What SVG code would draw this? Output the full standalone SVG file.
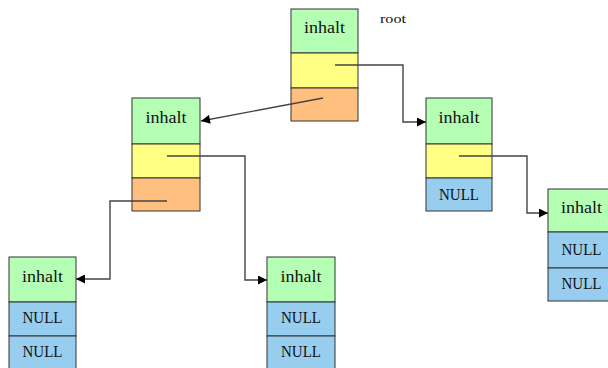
<svg xmlns="http://www.w3.org/2000/svg" width="608" height="368" viewBox="0 0 608 368">
<defs>
<style>
.g{fill:#b5ffb5;stroke:#333;stroke-width:1}
.y{fill:#ffff84;stroke:#333;stroke-width:1}
.o{fill:#ffbf7f;stroke:#333;stroke-width:1}
.b{fill:#97cdee;stroke:#333;stroke-width:1}
.t{font-family:"Liberation Serif","Times New Roman",serif;font-size:16px;fill:#111;text-anchor:middle}
.c{fill:none;stroke:#444;stroke-width:1.4}
</style>
<marker id="ah" viewBox="0 0 10 10" refX="10" refY="5" markerWidth="10" markerHeight="9" markerUnits="userSpaceOnUse" orient="auto">
<path d="M0,0 L10,5 L0,10 z" fill="#000"/>
</marker>
</defs>
<rect width="608" height="368" fill="#fff"/>
<g id="root">
<rect class="g" x="291" y="9" width="67" height="44"/>
<rect class="y" x="291" y="53" width="67" height="35"/>
<rect class="o" x="291" y="88" width="67" height="33"/>
<text class="t" x="324.5" y="33" textLength="41" lengthAdjust="spacingAndGlyphs">inhalt</text>
<text x="380" y="23" font-family="Liberation Serif, Times New Roman, serif" font-size="13" fill="#111" textLength="26" lengthAdjust="spacingAndGlyphs">root</text>
</g>
<g id="n1">
<rect class="g" x="132" y="98" width="68" height="46"/>
<rect class="y" x="132" y="144" width="68" height="34"/>
<rect class="o" x="132" y="178" width="68" height="33"/>
<text class="t" x="166" y="123" textLength="41" lengthAdjust="spacingAndGlyphs">inhalt</text>
</g>
<g id="n2">
<rect class="g" x="426" y="98" width="66" height="46"/>
<rect class="y" x="426" y="144" width="66" height="34"/>
<rect class="b" x="426" y="178" width="66" height="33"/>
<text class="t" x="459" y="123" textLength="41" lengthAdjust="spacingAndGlyphs">inhalt</text>
<text class="t" x="459" y="200" textLength="40" lengthAdjust="spacingAndGlyphs">NULL</text>
</g>
<g id="n3">
<rect class="g" x="9" y="257" width="67" height="45"/>
<rect class="b" x="9" y="302" width="67" height="34"/>
<rect class="b" x="9" y="336" width="67" height="34"/>
<text class="t" x="42.5" y="282" textLength="41" lengthAdjust="spacingAndGlyphs">inhalt</text>
<text class="t" x="42.5" y="323" textLength="40" lengthAdjust="spacingAndGlyphs">NULL</text>
<text class="t" x="42.5" y="357" textLength="40" lengthAdjust="spacingAndGlyphs">NULL</text>
</g>
<g id="n4">
<rect class="g" x="267" y="257" width="68" height="45"/>
<rect class="b" x="267" y="302" width="68" height="34"/>
<rect class="b" x="267" y="336" width="68" height="34"/>
<text class="t" x="301" y="282" textLength="41" lengthAdjust="spacingAndGlyphs">inhalt</text>
<text class="t" x="301" y="323" textLength="40" lengthAdjust="spacingAndGlyphs">NULL</text>
<text class="t" x="301" y="357" textLength="40" lengthAdjust="spacingAndGlyphs">NULL</text>
</g>
<g id="n5">
<rect class="g" x="548" y="189" width="67" height="43"/>
<rect class="b" x="548" y="232" width="67" height="36"/>
<rect class="b" x="548" y="268" width="67" height="33"/>
<text class="t" x="581.5" y="213" textLength="41" lengthAdjust="spacingAndGlyphs">inhalt</text>
<text class="t" x="581.5" y="255" textLength="40" lengthAdjust="spacingAndGlyphs">NULL</text>
<text class="t" x="581.5" y="289" textLength="40" lengthAdjust="spacingAndGlyphs">NULL</text>
</g>
<g id="connectors">
<path class="c" d="M335,65 H403 V122 H426" marker-end="url(#ah)"/>
<path class="c" d="M323,98 L201,121" marker-end="url(#ah)"/>
<path class="c" d="M167,156 H245 V280 H267" marker-end="url(#ah)"/>
<path class="c" d="M167,201 H110 V279 H76" marker-end="url(#ah)"/>
<path class="c" d="M459,156 H527 V213 H548" marker-end="url(#ah)"/>
</g>
</svg>
